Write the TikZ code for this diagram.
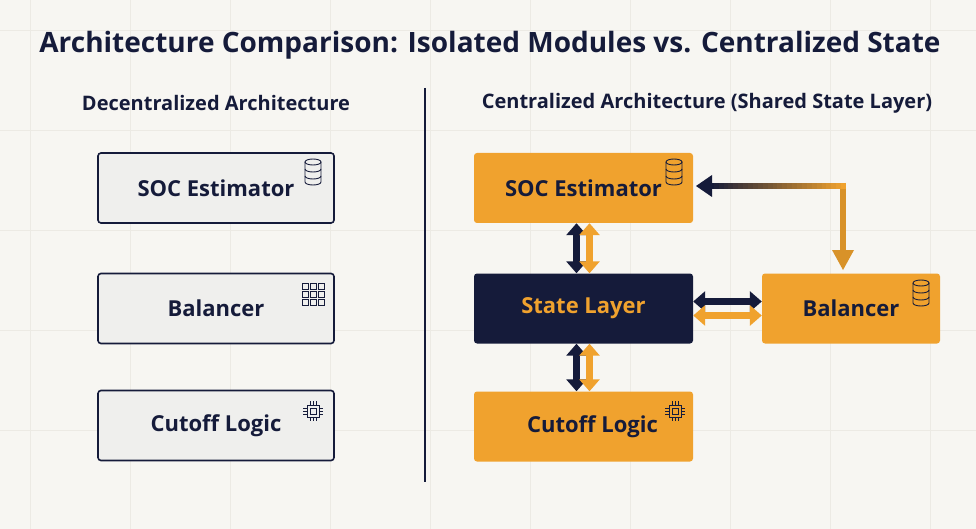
\documentclass[tikz,border=0pt]{standalone}
\usepackage{fontspec}
\setmainfont{Open Sans}
\usetikzlibrary{arrows.meta}
\definecolor{bg}{HTML}{F7F6F2}
\definecolor{navy}{HTML}{151B3A}
\definecolor{org}{HTML}{F0A22E}
\definecolor{lbox}{HTML}{EFEFED}
\definecolor{grid}{HTML}{ECEAE4}
\tikzset{
 lb/.style={draw=navy,line width=1.6pt,fill=lbox,rounded corners=3pt,minimum width=236pt,minimum height=70pt,font=\bfseries\fontsize{22}{26}\selectfont,text=navy},
 rb/.style={fill=org,rounded corners=3pt,minimum width=219pt,minimum height=70pt,font=\bfseries\fontsize{22}{26}\selectfont,text=navy},
 ar/.style={line width=7pt,{Triangle[length=12pt,width=20pt]}-{Triangle[length=12pt,width=20pt]}},
 ic/.style={line width=0.9pt,draw=navy},
}
\newcommand{\dbicon}[1]{\begin{scope}[shift={(#1)}]
 \draw[ic] (-8,-10) -- (-8,10) arc[start angle=180,end angle=0,x radius=8,y radius=3] -- (8,-10);
 \draw[ic] (0,-10) ellipse[x radius=8,y radius=3];
 \draw[ic] (-8,-3) arc[start angle=180,end angle=0,x radius=8,y radius=3];
 \draw[ic] (-8,4) arc[start angle=180,end angle=0,x radius=8,y radius=3];
 \end{scope}}
\newcommand{\chipicon}[1]{\begin{scope}[shift={(#1)}]
 \draw[ic] (-6,-6) rectangle (6,6); \draw[ic] (-3,-3) rectangle (3,3);
 \foreach \t in {-3,0,3}{\draw[ic,line width=0.6pt] (\t,-6)--(\t,-10) (\t,6)--(\t,10) (-6,\t)--(-10,\t) (6,\t)--(10,\t);}
 \end{scope}}
\begin{document}
\begin{tikzpicture}[x=1pt,y=-1pt]
\fill[bg] (0,0) rectangle (976,529);
\useasboundingbox (0,0) rectangle (976,529);
\foreach \x in {30,130,...,930}{\draw[grid,line width=0.5pt] (\x,0)--(\x,529);}
\foreach \y in {30,130,...,530}{\draw[grid,line width=0.5pt] (0,\y)--(976,\y);}
\node[font=\bfseries\fontsize{28}{32}\selectfont,text=navy] (title) at (490,45) {Architecture Comparison: Isolated Modules vs. Centralized State};
\node[font=\bfseries\fontsize{20}{24}\selectfont,text=navy] (lt) at (216,103) {Decentralized Architecture};
\node[font=\bfseries\fontsize{20}{24}\selectfont,text=navy] (rt) at (707,103) {Centralized Architecture (Shared State Layer)};
\draw[navy,line width=1.5pt] (425,88) coordinate (d1) -- (425,482) coordinate (d2);
% left
\node[lb] (ls) at (216,188) {SOC Estimator\hspace{18pt}};
\node[lb] (lbal) at (216,308.5) {Balancer\hspace{18pt}};
\node[lb] (lc) at (216,425.5) {Cutoff Logic\hspace{18pt}};
\dbicon{313,172}
\foreach \i in {0,1,2}\foreach \j in {0,1,2}{\draw[ic] (302+\i*8,283+\j*8) rectangle ++(6,6);}
\chipicon{313,411}
% right
\node[rb] (rs) at (583.5,188) {SOC Estimator\hspace{18pt}};
\node[rb,fill=navy,text=org] (st) at (583.5,308.5) {State Layer};
\node[rb] (rc) at (583.5,426.5) {\hspace{18pt}Cutoff Logic};
\node[rb,minimum width=178pt] (rbal) at (851,308.5) {Balancer};
\dbicon{674,172}
\dbicon{921,293}
\chipicon{675,411}
\draw[ar,navy] ([xshift=-7pt]rs.south) -- ([xshift=-7pt]st.north);
\draw[ar,org] ([xshift=6pt]rs.south) -- ([xshift=6pt]st.north);
\draw[ar,navy] ([xshift=-7pt]st.south) -- ([xshift=-7pt]rc.north);
\draw[ar,org] ([xshift=6pt]st.south) -- ([xshift=6pt]rc.north);
\draw[ar,navy] ([yshift=7pt]st.east) -- ([yshift=7pt]rbal.west);
\draw[ar,org] ([yshift=-7pt]st.east) -- ([yshift=-7pt]rbal.west);
% feedback
\coordinate (c1) at (843,186);
\draw[line width=6pt,org!90!black] (843,183) -- (843,252);
\foreach \k in {0,...,27}{
 \pgfmathsetmacro{\p}{100-\k*100/27}
 \draw[line width=6pt,color=org!\p!navy] (846-\k*4.9,186) -- (846-\k*4.9-5.5,186);}
\fill[org!90!black] (832,250) -- (854,250) -- (843,270) coordinate (c2) -- cycle;
\fill[navy] (696,186) -- (712,175) -- (712,197) -- cycle;
\end{tikzpicture}
\end{document}
